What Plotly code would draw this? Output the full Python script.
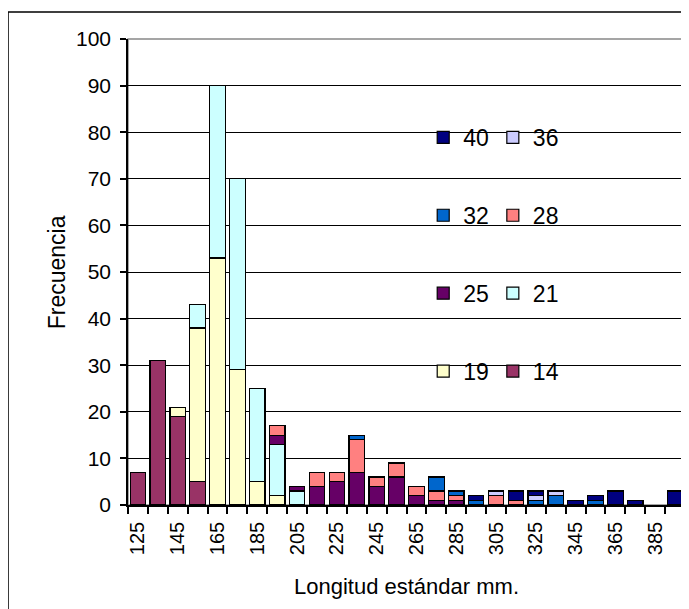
import plotly.graph_objects as go

categories = [125, 135, 145, 155, 165, 175, 185, 195, 205, 215, 225, 235, 245, 255,
              265, 275, 285, 295, 305, 315, 325, 335, 345, 355, 365, 375, 385, 395]

s14 = [7, 31, 19, 5, 0, 0, 0, 0, 0, 0, 0, 0, 0, 0, 0, 0, 0, 0, 0, 0, 0, 0, 0, 0, 0, 0, 0, 0]
s19 = [0, 0, 2, 33, 53, 29, 5, 2, 0, 0, 0, 0, 0, 0, 0, 0, 0, 0, 0, 0, 0, 0, 0, 0, 0, 0, 0, 0]
s21 = [0, 0, 0, 5, 37, 41, 20, 11, 3, 0, 0, 0, 0, 0, 0, 0, 0, 0, 0, 0, 0, 0, 0, 0, 0, 0, 0, 0]
s25 = [0, 0, 0, 0, 0, 0, 0, 2, 1, 4, 5, 7, 4, 6, 2, 1, 1, 0, 0, 0, 0, 0, 0, 0, 0, 0, 0, 0]
s28 = [0, 0, 0, 0, 0, 0, 0, 2, 0, 3, 2, 7, 2, 3, 2, 2, 1, 0, 2, 1, 0, 0, 0, 0, 0, 0, 0, 0]
s32 = [0, 0, 0, 0, 0, 0, 0, 0, 0, 0, 0, 1, 0, 0, 0, 3, 1, 1, 0, 0, 1, 2, 0, 1, 0, 0, 0, 0]
s36 = [0, 0, 0, 0, 0, 0, 0, 0, 0, 0, 0, 0, 0, 0, 0, 0, 0, 0, 1, 0, 1, 1, 0, 0, 0, 0, 0, 0]
s40 = [0, 0, 0, 0, 0, 0, 0, 0, 0, 0, 0, 0, 0, 0, 0, 0, 0, 1, 0, 2, 1, 0, 1, 1, 3, 1, 0, 3]

series_names = ["14", "19", "21", "25", "28", "32", "36", "40"]
series_values = [s14, s19, s21, s25, s28, s32, s36, s40]
series_colors = ["#993366", "#FFFFCC", "#CCFFFF", "#660066", "#FF8080", "#0066CC", "#CCCCFF", "#000080"]
# left legend column: 40, 32, 25, 19 ; right column: 36, 28, 21, 14
legend_of = {"14": "legend2", "19": "legend", "21": "legend2", "25": "legend",
             "28": "legend2", "32": "legend", "36": "legend2", "40": "legend"}
legend_rank = {"40": 1, "36": 1, "32": 2, "28": 2, "25": 3, "21": 3, "19": 4, "14": 4}

tick_vals = [125, 145, 165, 185, 205, 225, 245, 265, 285, 305, 325, 345, 365, 385]
tick_text = [str(v) for v in tick_vals]
boundaries = [120 + 10 * i for i in range(29)]

FONT = "Liberation Sans, Arial, sans-serif"

fig = go.Figure()
for name, vals, col in zip(series_names, series_values, series_colors):
    fig.add_trace(go.Bar(
        x=categories,
        y=[v if v else None for v in vals],
        name=name,
        width=7.8,
        marker=dict(color=col, line=dict(color="#000000", width=1.2)),
        legend=legend_of[name],
        legendgroup=name,
        legendrank=legend_rank[name],
    ))

legend_common = dict(
    traceorder="grouped",
    bgcolor="rgba(0,0,0,0)",
    font=dict(family=FONT, size=23, color="#000000"),
    tracegroupgap=45,
    itemwidth=30,
    yanchor="top",
    xanchor="left",
    y=0.835,
)
fig.update_layout(
    barmode="stack",
    width=681,
    height=601,
    margin=dict(l=120, r=4, t=31, b=104),
    paper_bgcolor="#ffffff",
    plot_bgcolor="#ffffff",
    font=dict(family=FONT, size=21, color="#000000"),
    legend=dict(x=0.53, **legend_common),
    legend2=dict(x=0.655, **legend_common),
    xaxis=dict(
        range=[120, 400],
        tickmode="array",
        tickvals=tick_vals,
        ticktext=tick_text,
        tickangle=-90,
        ticks="outside",
        ticklen=0,
        ticklabelstandoff=7,
        showgrid=False,
        showline=True,
        linecolor="#000000",
        linewidth=1.5,
        zeroline=False,
        tickfont=dict(family=FONT, size=20, color="#000000"),
        minor=dict(tickmode="array", tickvals=boundaries, ticks="outside",
                   ticklen=7, tickcolor="#000000", tickwidth=1.5, showgrid=False),
    ),
    yaxis=dict(
        range=[0, 100],
        dtick=10,
        ticks="outside",
        ticklen=6,
        ticklabelstandoff=5,
        tickcolor="#000000",
        tickwidth=1.5,
        showgrid=True,
        gridcolor="#000000",
        gridwidth=1.2,
        showline=True,
        linecolor="#000000",
        linewidth=1.5,
        zeroline=False,
        tickfont=dict(family=FONT, size=21, color="#000000"),
    ),
    shapes=[
        dict(type="rect", xref="paper", yref="paper", x0=0, x1=1, y0=0, y1=1,
             line=dict(color="#888888", width=1.5), layer="below"),
        dict(type="rect", xref="paper", yref="paper",
             x0=-0.2154, x1=1.05, y0=-0.3, y1=1.058,
             line=dict(color="#000000", width=1.5)),
    ],
    annotations=[
        dict(text="Frecuencia", xref="paper", yref="paper", x=-0.127, y=0.5,
             textangle=-90, showarrow=False, xanchor="center", yanchor="middle",
             font=dict(family=FONT, size=23, color="#000000")),
        dict(text="Longitud estándar mm.", xref="paper", yref="paper", x=0.5, y=-0.175,
             showarrow=False, xanchor="center", yanchor="middle",
             font=dict(family=FONT, size=22, color="#000000")),
    ],
)

fig.write_html("out.html")
